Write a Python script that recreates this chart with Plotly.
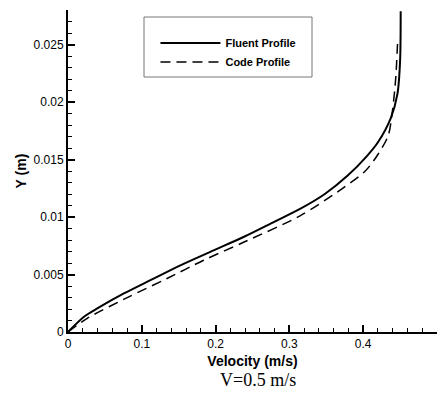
import plotly.graph_objects as go

# Fluent profile (solid)
fluent_v = [0.0, 0.0217, 0.0397, 0.0757, 0.1117, 0.1523, 0.1973, 0.2378, 0.2800, 0.3144,
            0.3480, 0.3790, 0.4050, 0.4200, 0.4374, 0.4464, 0.4500, 0.4508]
fluent_y = [0.0, 0.00133, 0.00205, 0.00335, 0.00451, 0.0058, 0.0071, 0.00826, 0.0096, 0.0107,
            0.0120, 0.0136, 0.0153, 0.0165, 0.0186, 0.0207, 0.0236, 0.0279]

# Code profile (dashed)
code_v = [0.0, 0.0261, 0.0824, 0.1342, 0.1838, 0.2378, 0.3144, 0.3712, 0.4028, 0.4206,
          0.4340, 0.4396, 0.4441, 0.4468]
code_y = [0.0, 0.00119, 0.00306, 0.00465, 0.00624, 0.0078, 0.0101, 0.01245, 0.0140, 0.0155,
          0.0171, 0.0192, 0.0221, 0.0255]

x_ticks = [0, 0.1, 0.2, 0.3, 0.4, 0.5]
x_labels = ["0", "0.1", "0.2", "0.3", "0.4", "0.5"]
y_ticks = [0, 0.005, 0.01, 0.015, 0.02, 0.025]
y_labels = ["0", "0.005", "0.01", "0.015", "0.02", "0.025"]

fig = go.Figure()
fig.add_trace(go.Scatter(x=fluent_v, y=fluent_y, mode="lines", name="Fluent Profile",
                         line=dict(color="black", width=2, shape="spline", smoothing=0.8)))
fig.add_trace(go.Scatter(x=code_v, y=code_y, mode="lines", name="Code Profile",
                         line=dict(color="black", width=1.5, dash="10px,6px", shape="spline", smoothing=0.8)))

fig.update_layout(
    width=444, height=394,
    margin=dict(l=68, r=7, t=10, b=62),
    paper_bgcolor="white", plot_bgcolor="white",
    font=dict(family="Liberation Sans, Arial, sans-serif", color="black", size=12),
    showlegend=True,
    legend=dict(x=0.237, y=0.9425, xanchor="left", yanchor="top",
                bgcolor="rgba(0,0,0,0)", borderwidth=0,
                font=dict(family="Liberation Sans, Arial", size=11, color="black", weight="bold"),
                itemwidth=60, tracegroupgap=0),
    xaxis=dict(range=[0, 0.5], tickvals=x_ticks, ticktext=x_labels,
               showgrid=False, zeroline=False, showline=True, linecolor="black", linewidth=2,
               ticks="inside", ticklen=7, tickwidth=1.5, tickcolor="black",
               minor=dict(dtick=0.02, ticks="inside", ticklen=4, tickwidth=1, tickcolor="black", showgrid=False),
               tickfont=dict(size=12),
               title=dict(text="<b>Velocity (m/s)</b>", font=dict(size=14), standoff=6)),
    yaxis=dict(range=[0, 0.028], tickvals=y_ticks, ticktext=y_labels,
               showgrid=False, zeroline=False, showline=True, linecolor="black", linewidth=2,
               ticks="inside", ticklen=7, tickwidth=1.5, tickcolor="black",
               minor=dict(dtick=0.001, ticks="inside", ticklen=4, tickwidth=1, tickcolor="black", showgrid=False),
               tickfont=dict(size=12),
               title=dict(text="<b>Y (m)</b>", font=dict(size=14), standoff=4)),
    shapes=[dict(type="rect", xref="paper", yref="paper",
                 x0=(144 - 68) / 369, x1=(312 - 68) / 369,
                 y0=(332 - 77) / 322, y1=(332 - 17) / 322,
                 line=dict(color="#777777", width=1), fillcolor="rgba(0,0,0,0)")],
    annotations=[dict(text="V=0.5 m/s", xref="paper", yref="paper",
                      x=(258 - 68) / 369, y=-(380 - 332) / 322, xanchor="center", yanchor="middle",
                      showarrow=False,
                      font=dict(family="Liberation Serif, Times New Roman, serif", size=18, color="black"))],
)

fig.write_html("out.html")
